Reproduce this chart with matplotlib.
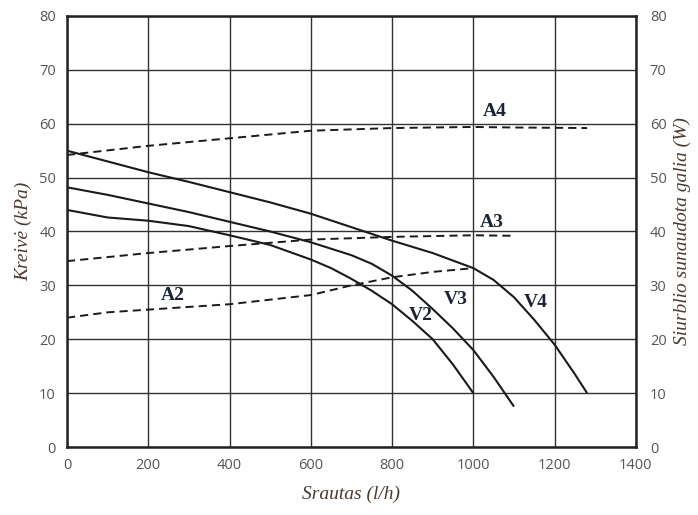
import matplotlib
matplotlib.use("Agg")
import matplotlib.pyplot as plt

# flow (l/h) vs head (kPa), pump speed curves
v4_x = [0, 100, 200, 300, 400, 500, 600, 700, 800, 900, 1000, 1050, 1100, 1150, 1200, 1250, 1280]
v4_y = [55, 53, 51, 49.2, 47.3, 45.4, 43.3, 40.8, 38.3, 36, 33.2, 31, 27.8, 23.6, 19, 13.5, 10]
v3_x = [0, 100, 200, 300, 400, 500, 600, 700, 750, 800, 850, 900, 950, 1000, 1050, 1100]
v3_y = [48.2, 46.8, 45.2, 43.6, 41.8, 40, 38, 35.6, 34, 31.8, 29, 25.6, 22, 18, 13, 7.5]
v2_x = [0, 100, 200, 300, 400, 500, 600, 650, 700, 750, 800, 850, 900, 950, 1000]
v2_y = [44, 42.6, 42, 41, 39.3, 37.5, 34.8, 33.2, 31.2, 29, 26.5, 23.4, 20, 15.3, 10]

# power consumption (W)
a4_x = [0, 200, 400, 600, 800, 1000, 1100, 1280]
a4_y = [54.2, 55.9, 57.3, 58.7, 59.2, 59.4, 59.3, 59.2]
a3_x = [0, 200, 400, 600, 800, 1000, 1100]
a3_y = [34.5, 36, 37.3, 38.5, 39, 39.3, 39.2]
a2_x = [0, 100, 200, 400, 600, 700, 800, 900, 1000]
a2_y = [24, 25, 25.5, 26.5, 28.2, 30, 31.5, 32.5, 33.2]

labels = ["V2", "V3", "V4", "A2", "A3", "A4"]
label_x = [871, 957, 1153, 260, 1045, 1053]
label_y = [24.5, 27.3, 26.9, 28.2, 41.7, 62.3]

INK = "#1a1a1a"
TICK = "#555555"
AXLAB = "#4a3a30"
NAVY = "#1c2333"

fig = plt.figure(figsize=(6.98, 5.15), dpi=100)
ax = fig.add_axes([0.096, 0.132, 0.815, 0.837])

for x, y in [(v4_x, v4_y), (v3_x, v3_y), (v2_x, v2_y)]:
    ax.plot(x, y, color=INK, linewidth=1.5, solid_capstyle="butt")
for x, y in [(a4_x, a4_y), (a3_x, a3_y), (a2_x, a2_y)]:
    ax.plot(x, y, color=INK, linewidth=1.4, dashes=(4.2, 2.6))

for t, x, y in zip(labels, label_x, label_y):
    ax.text(x, y, t, fontsize=14, fontweight="bold", family="Liberation Serif",
            color=NAVY, ha="center", va="center")

ax.set_xlim(0, 1400)
ax.set_ylim(0, 80)
ax.set_xticks(range(0, 1401, 200))
ax.set_yticks(range(0, 81, 10))
ax.grid(True, color="#333333", linewidth=1.0)
ax.set_axisbelow(True)
for s in ax.spines.values():
    s.set_linewidth(1.8)
    s.set_color("#222222")
ax.tick_params(length=0, pad=8, labelsize=10.5, colors=TICK)
for lab in ax.get_xticklabels() + ax.get_yticklabels():
    lab.set_family("Open Sans")

ax2 = ax.twinx()
ax2.set_ylim(0, 80)
ax2.set_yticks(range(0, 81, 10))
ax2.tick_params(length=0, pad=10, labelsize=10.5, colors=TICK)
for lab in ax2.get_yticklabels():
    lab.set_family("Open Sans")
for s in ax2.spines.values():
    s.set_visible(False)

lab_font = dict(family="Liberation Serif", style="italic", fontsize=14, color=AXLAB)
ax.set_xlabel("Srautas (l/h)", labelpad=9, **lab_font)
ax.set_ylabel("Kreivė (kPa)", labelpad=5, **lab_font)
ax2.set_ylabel("Siurblio sunaudota galia (W)", labelpad=5, **lab_font)

fig.savefig("out.png", dpi=100)
